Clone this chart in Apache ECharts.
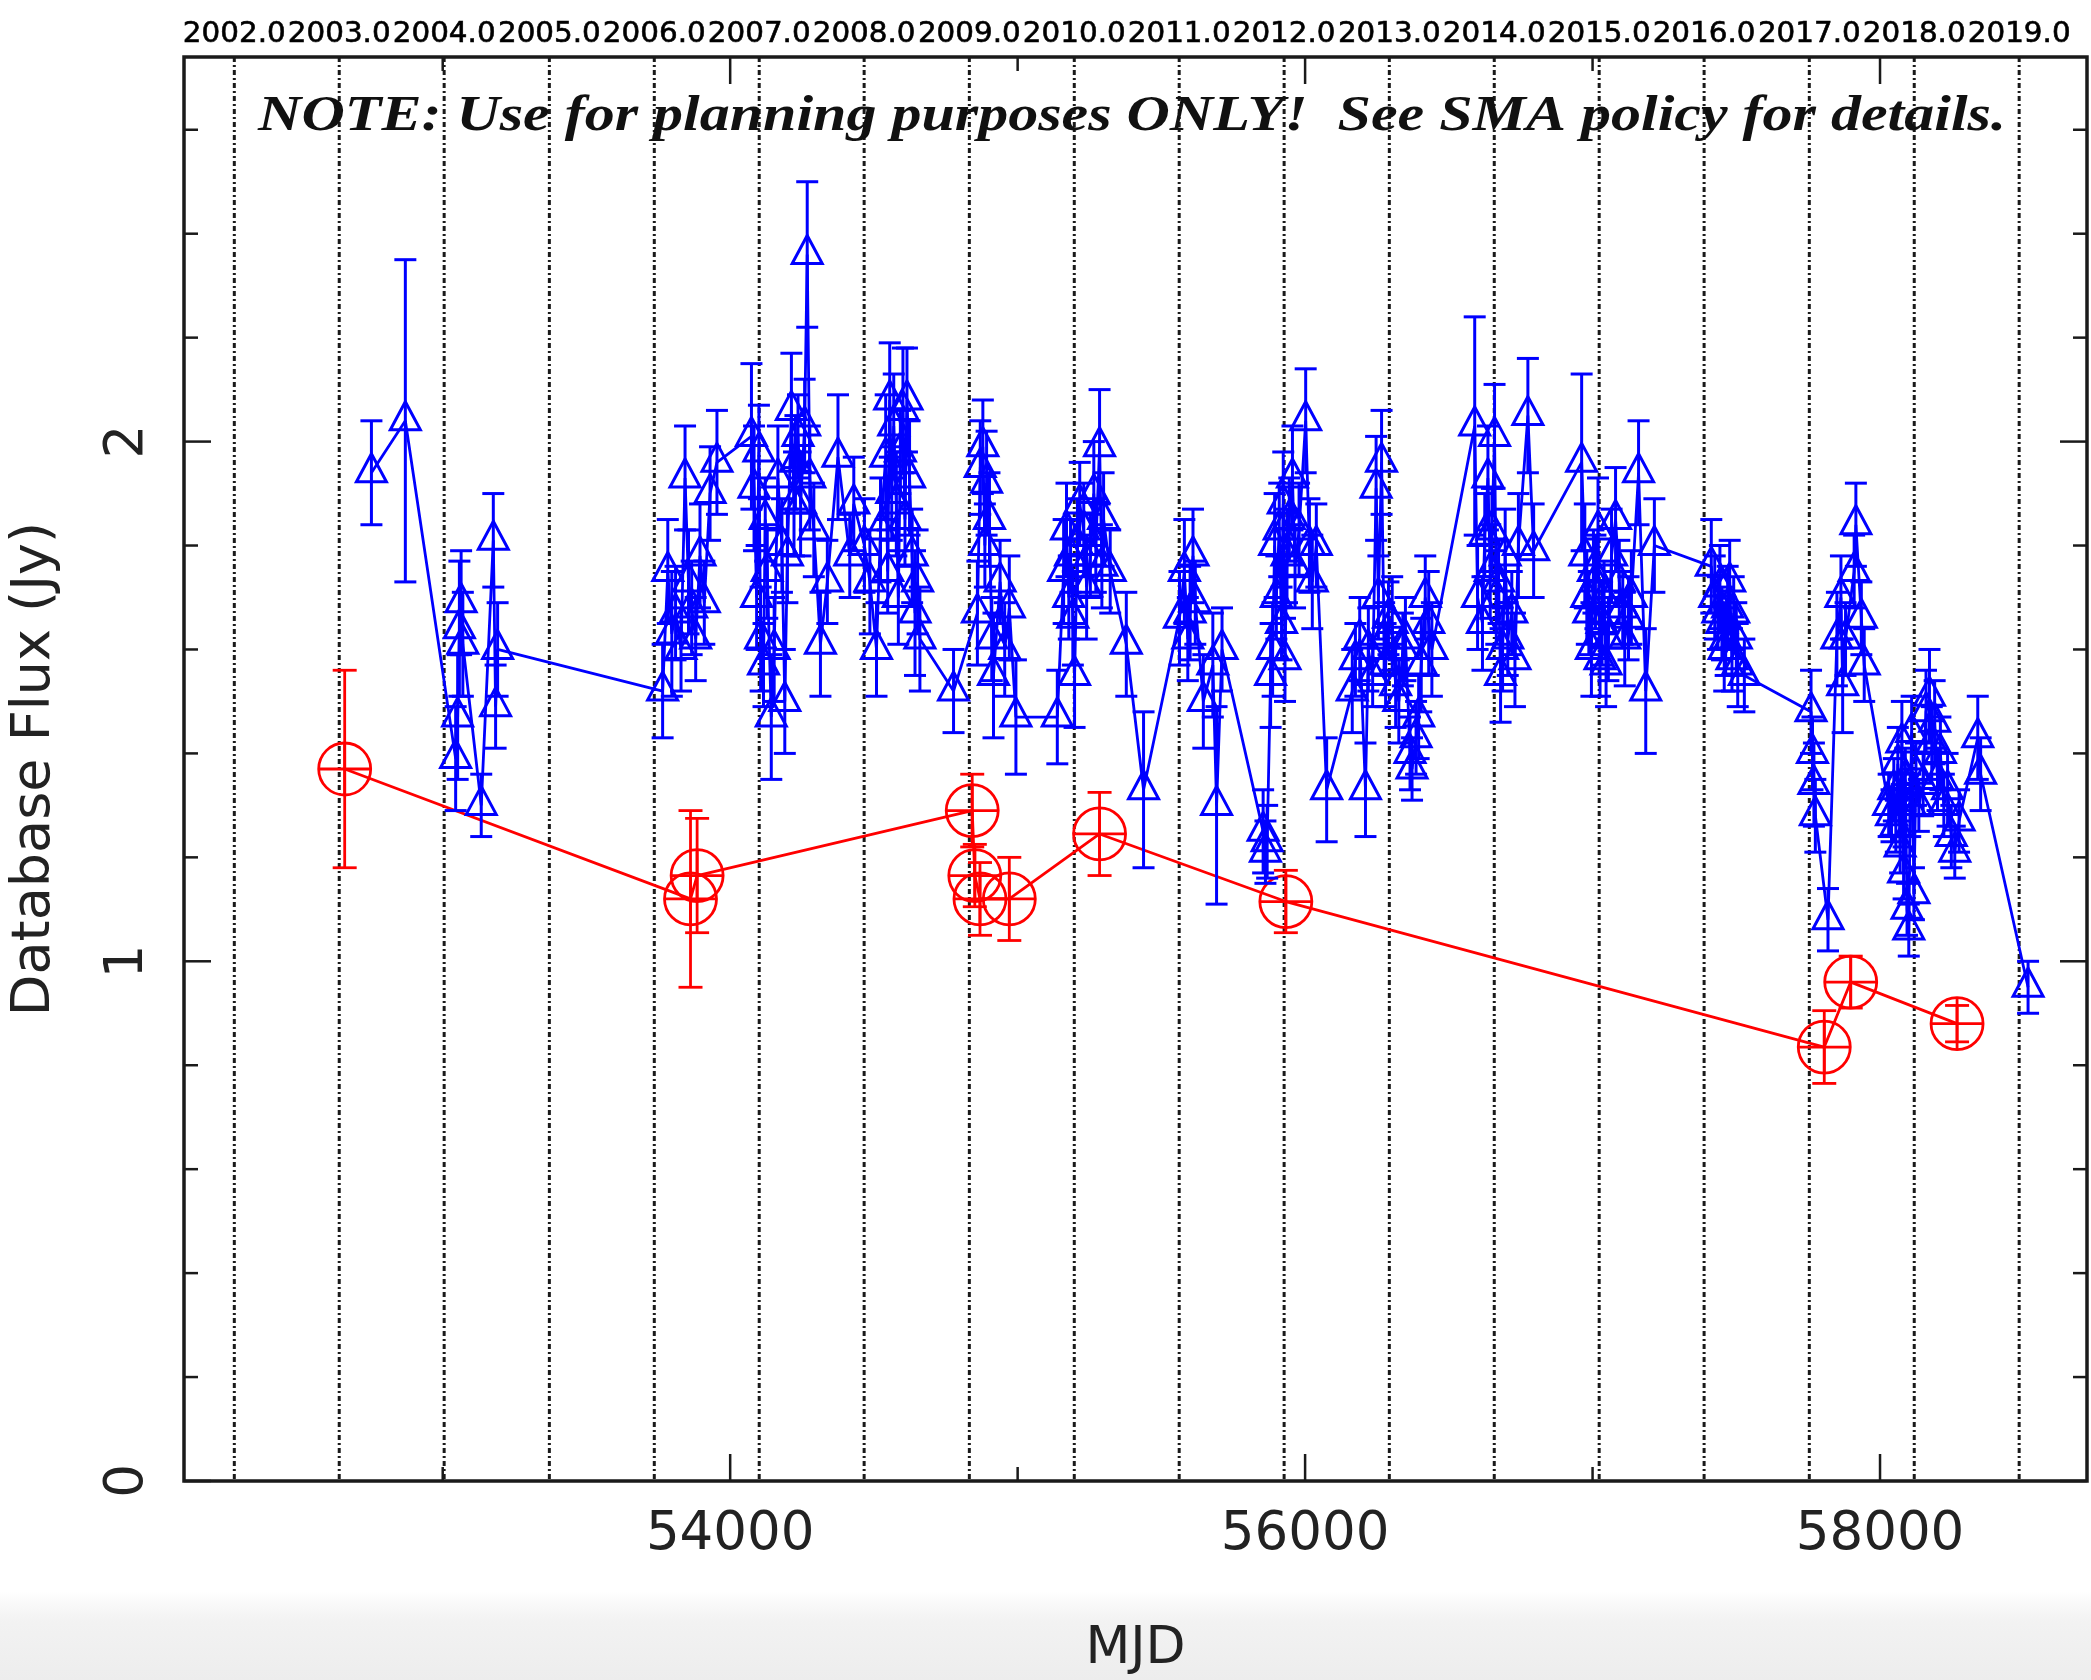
<!DOCTYPE html>
<html>
<head>
<meta charset="utf-8">
<script src="https://cdn.jsdelivr.net/npm/echarts@6/dist/echarts.min.js"></script>
<style>
    html, body { margin: 0; padding: 0; background: #fff; }
    #main { width: 2091px; height: 1680px; }
</style>
</head>
<body>
<div id="main"></div>
<script>
// ---- data ----
// blue triangles (MJD, flux Jy, error Jy)
var blueMjd = [
    52752, 52870, 53045, 53052, 53058, 53064, 53070, 53134, 53176, 53184, 53191,
    53765, 53783, 53797, 53810, 53829, 53843, 53855, 53866, 53880, 53895, 53910, 53930, 53954,
    54074, 54083, 54092, 54100, 54106, 54116, 54122, 54129, 54143, 54153, 54166, 54180, 54190, 54199,
    54213, 54222, 54227, 54236, 54245, 54259, 54268, 54277, 54291, 54314, 54338, 54375, 54416, 54430,
    54467, 54486, 54509, 54523, 54541, 54548, 54555, 54562, 54569, 54578, 54585, 54592, 54601, 54608,
    54615, 54624, 54633, 54643, 54652, 54660, 54777,
    54860, 54870, 54879, 54886, 54892, 54902, 54910, 54916, 54939, 54955, 54971, 54994,
    55138, 55160, 55170, 55178, 55184, 55192, 55198, 55208, 55216, 55230, 55240, 55253, 55265, 55272,
    55285, 55293, 55299, 55322, 55378, 55438,
    55563, 55580, 55592, 55600, 55610, 55618, 55646, 55679, 55692, 55711,
    55854, 55862, 55868, 55880, 55887, 55894, 55900, 55910, 55918, 55924, 55930, 55937, 55945, 55956,
    55965, 55979, 56002, 56015, 56025, 56039, 56075,
    56164, 56175, 56190, 56210, 56220, 56235, 56247, 56255, 56266, 56275, 56280, 56290, 56303, 56315,
    56326, 56340, 56349, 56365, 56372, 56386, 56395, 56404, 56418, 56430, 56441,
    56590, 56600, 56617, 56625, 56636, 56644, 56650, 56659, 56665, 56673, 56680, 56687, 56696, 56705,
    56719, 56730, 56742, 56775, 56795,
    56962, 56973, 56980, 56987, 56996, 57003, 57010, 57019, 57026, 57033, 57040, 57047, 57055, 57066,
    57080, 57093, 57105, 57112, 57125, 57135, 57160, 57185, 57215,
    57413, 57425, 57436, 57443, 57450, 57458, 57463, 57470, 57477, 57485, 57491, 57500, 57505, 57528,
    57760, 57765, 57770, 57775, 57819, 57850, 57864, 57870, 57880, 57910, 57916, 57935, 57945,
    58030, 58040, 58048, 58055, 58062, 58070, 58076, 58082, 58088, 58094, 58100, 58105, 58110, 58118,
    58125, 58135, 58150, 58160, 58172, 58180, 58190, 58200, 58210, 58222, 58235, 58248, 58260, 58275,
    58340, 58350, 58515
];
var blueFlux = [
    1.94, 2.04, 1.39, 1.47, 1.64, 1.69, 1.61, 1.30, 1.81, 1.49, 1.60,
    1.52, 1.75, 1.63, 1.67, 1.60, 1.93, 1.73, 1.68, 1.62, 1.78, 1.69, 1.90, 1.96,
    2.01, 1.91, 1.70, 1.98, 1.62, 1.57, 1.85, 1.75, 1.47, 1.60, 1.93, 1.80, 1.50, 1.78,
    2.06, 1.88, 1.96, 2.01, 1.88, 2.03, 2.36, 1.93, 1.83, 1.61, 1.73, 1.97, 1.78, 1.88,
    1.80, 1.73, 1.60, 1.83, 1.97, 1.75, 2.08, 1.90, 2.03, 1.88, 1.70, 1.98, 2.06, 1.85,
    2.08, 1.93, 1.78, 1.67, 1.73, 1.62, 1.52,
    1.67, 1.95, 1.99, 1.80, 1.92, 1.85, 1.62, 1.55, 1.73, 1.60, 1.68, 1.47,
    1.47, 1.75, 1.83, 1.70, 1.78, 1.66, 1.55, 1.80, 1.88, 1.83, 1.72, 1.78, 1.90, 1.80,
    1.99, 1.76, 1.85, 1.75, 1.61, 1.33,
    1.66, 1.75, 1.62, 1.67, 1.78, 1.69, 1.50, 1.57, 1.30, 1.60,
    1.25, 1.21, 1.23, 1.55, 1.60, 1.80, 1.70, 1.83, 1.65, 1.88, 1.58, 1.78, 1.85, 1.93,
    1.76, 1.83, 2.04, 1.80, 1.73, 1.80, 1.33,
    1.52, 1.58, 1.62, 1.33, 1.60, 1.55, 1.91, 1.70, 1.96, 1.62, 1.57, 1.66, 1.65, 1.53,
    1.50, 1.60, 1.62, 1.40, 1.37, 1.43, 1.47, 1.57, 1.70, 1.65, 1.60,
    2.03, 1.70, 1.65, 1.82, 1.93, 1.75, 1.83, 2.01, 1.70, 1.73, 1.55, 1.60, 1.78, 1.62,
    1.67, 1.58, 1.80, 2.05, 1.79,
    1.96, 1.78, 1.70, 1.67, 1.60, 1.75, 1.73, 1.83, 1.58, 1.65, 1.70, 1.57, 1.62, 1.78,
    1.85, 1.73, 1.68, 1.62, 1.66, 1.70, 1.94, 1.52, 1.80,
    1.76, 1.70, 1.67, 1.72, 1.65, 1.60, 1.62, 1.68, 1.73, 1.58, 1.67, 1.62, 1.57, 1.55,
    1.48, 1.40, 1.34, 1.28, 1.08, 1.62, 1.70, 1.53, 1.62, 1.75, 1.84, 1.66, 1.57,
    1.30, 1.28, 1.33, 1.26, 1.38, 1.22, 1.42, 1.17, 1.35, 1.10, 1.06, 1.30, 1.44, 1.13,
    1.36, 1.30, 1.34, 1.48, 1.51, 1.42, 1.46, 1.35, 1.40, 1.30, 1.33, 1.24, 1.21, 1.27,
    1.43, 1.36, 0.95
];
var blueErr = [
    0.10, 0.31, 0.10, 0.12, 0.13, 0.10, 0.10, 0.06, 0.09, 0.08, 0.09,
    0.09, 0.10, 0.12, 0.09, 0.08, 0.10, 0.10, 0.09, 0.08, 0.10, 0.08, 0.09, 0.10,
    0.14, 0.12, 0.10, 0.09, 0.10, 0.08, 0.08, 0.09, 0.12, 0.10, 0.10, 0.09, 0.10, 0.09,
    0.11, 0.10, 0.09, 0.08, 0.10, 0.09, 0.14, 0.10, 0.09, 0.10, 0.08, 0.12, 0.08, 0.09,
    0.09, 0.10, 0.09, 0.10, 0.12, 0.08, 0.11, 0.09, 0.10, 0.10, 0.09, 0.08, 0.12, 0.09,
    0.10, 0.11, 0.09, 0.12, 0.10, 0.10, 0.08,
    0.10, 0.09, 0.09, 0.08, 0.10, 0.09, 0.08, 0.12, 0.08, 0.09, 0.10, 0.11,
    0.09, 0.10, 0.09, 0.08, 0.07, 0.09, 0.10, 0.09, 0.08, 0.09, 0.10, 0.08, 0.10, 0.09,
    0.11, 0.08, 0.09, 0.08, 0.10, 0.15,
    0.09, 0.10, 0.08, 0.09, 0.09, 0.08, 0.09, 0.10, 0.19, 0.08,
    0.08, 0.06, 0.07, 0.10, 0.09, 0.10, 0.08, 0.09, 0.07, 0.10, 0.08, 0.09, 0.08, 0.10,
    0.08, 0.09, 0.10, 0.09, 0.09, 0.08, 0.10,
    0.08, 0.07, 0.08, 0.09, 0.08, 0.06, 0.10, 0.08, 0.10, 0.07, 0.08, 0.07, 0.09, 0.08,
    0.08, 0.07, 0.08, 0.07, 0.06, 0.07, 0.08, 0.09, 0.08, 0.10, 0.09,
    0.21, 0.10, 0.09, 0.08, 0.10, 0.09, 0.08, 0.10, 0.09, 0.08, 0.09, 0.08, 0.09, 0.07,
    0.08, 0.09, 0.10, 0.11, 0.09,
    0.17, 0.10, 0.09, 0.08, 0.09, 0.08, 0.09, 0.10, 0.07, 0.08, 0.07, 0.08, 0.08, 0.09,
    0.10, 0.08, 0.07, 0.09, 0.08, 0.09, 0.10, 0.12, 0.09,
    0.09, 0.08, 0.07, 0.08, 0.07, 0.08, 0.07, 0.08, 0.08, 0.06, 0.07, 0.07, 0.08, 0.07,
    0.08, 0.07, 0.08, 0.07, 0.06, 0.09, 0.08, 0.09, 0.07, 0.07, 0.08, 0.07, 0.07,
    0.06, 0.05, 0.06, 0.05, 0.07, 0.05, 0.08, 0.05, 0.06, 0.05, 0.05, 0.06, 0.07, 0.05,
    0.06, 0.05, 0.06, 0.08, 0.09, 0.07, 0.08, 0.06, 0.07, 0.06, 0.07, 0.06, 0.05, 0.06,
    0.08, 0.07, 0.05
];

// red circles (MJD, flux Jy, error Jy)
var redMjd  = [52659, 53862, 53885, 54842, 54851, 54869, 54971, 55285, 55933, 57806, 57898, 58268];
var redFlux = [1.37, 1.12, 1.165, 1.29, 1.165, 1.12, 1.12, 1.245, 1.115, 0.835, 0.96, 0.88];
var redErr  = [0.19, 0.17, 0.11, 0.07, 0.06, 0.07, 0.08, 0.08, 0.06, 0.07, 0.05, 0.035];

// year markers along the top
var yearMjd = [52275, 52640, 53005, 53371, 53736, 54101, 54466, 54832, 55197,
               55562, 55927, 56293, 56658, 57023, 57388, 57754, 58119, 58484];
var yearLabels = ['2002.0', '2003.0', '2004.0', '2005.0', '2006.0', '2007.0', '2008.0', '2009.0', '2010.0',
                  '2011.0', '2012.0', '2013.0', '2014.0', '2015.0', '2016.0', '2017.0', '2018.0', '2019.0'];

// axis ticks
var xTickVals = [53000, 54000, 55000, 56000, 57000, 58000];
var xTickLabels = ['', '54000', '', '56000', '', '58000'];
var yTickVals = [0, 0.2, 0.4, 0.6, 0.8, 1, 1.2, 1.4, 1.6, 1.8, 2, 2.2, 2.4, 2.6];
var yTickLabels = ['0', '', '', '', '', '1', '', '', '', '', '2', '', '', ''];

var NOTE_TEXT = 'NOTE: Use for planning purposes ONLY!  See SMA policy for details.';

var X_MIN = 52100, X_MAX = 58720, Y_MIN = 0, Y_MAX = 2.74;
var BLUE = '#0000ff', RED = '#ff0000', INK = '#1a1a1a';

function zip3(a, b, c) {
    var out = [];
    for (var i = 0; i < a.length; i++) out.push([a[i], b[i], c[i]]);
    return out;
}
var blueData = zip3(blueMjd, blueFlux, blueErr);
var redData = zip3(redMjd, redFlux, redErr);

/**
 * dotted year lines + year labels above the frame
 */
function renderYear(params, api) {
    var t = api.coord([api.value(0), Y_MAX]);
    var b = api.coord([api.value(0), Y_MIN]);
    return {
        type: 'group',
        children: [
            {type: 'line', shape: {x1: t[0], y1: t[1], x2: b[0], y2: b[1]},
             style: {stroke: '#1a1a1a', lineWidth: 3, lineDash: [5, 3, 2, 3]}},
            {type: 'text', x: t[0], y: t[1] - 22, scaleX: 1.05,
             style: {text: yearLabels[params.dataIndex], x: 0, y: 0, align: 'center', verticalAlign: 'middle',
                     font: '28px "DejaVu Sans"', fill: '#000', stroke: '#000', lineWidth: 0.6}}
        ]
    };
}

function renderXTick(params, api) {
    var i = params.dataIndex;
    var lab = xTickLabels[i];
    var len = lab ? 27 : 14;
    var b = api.coord([api.value(0), Y_MIN]);
    var t = api.coord([api.value(0), Y_MAX]);
    var st = {stroke: INK, lineWidth: 2.5};
    var kids = [
        {type: 'line', shape: {x1: b[0], y1: b[1], x2: b[0], y2: b[1] - len}, style: st},
        {type: 'line', shape: {x1: t[0], y1: t[1], x2: t[0], y2: t[1] + len}, style: st}
    ];
    if (lab) {
        kids.push({type: 'text', x: b[0], y: b[1] + 54,
            style: {text: lab, x: 0, y: 0, align: 'center', verticalAlign: 'middle',
                    font: '53px "DejaVu Sans"', fill: '#222'}});
    }
    return {type: 'group', children: kids};
}

function renderYTick(params, api) {
    var i = params.dataIndex;
    var lab = yTickLabels[i];
    var len = lab ? 27 : 14;
    var l = api.coord([X_MIN, api.value(1)]);
    var r = api.coord([X_MAX, api.value(1)]);
    var st = {stroke: INK, lineWidth: 2.5};
    var kids = [
        {type: 'line', shape: {x1: l[0], y1: l[1], x2: l[0] + len, y2: l[1]}, style: st},
        {type: 'line', shape: {x1: r[0], y1: r[1], x2: r[0] - len, y2: r[1]}, style: st}
    ];
    if (lab) {
        kids.push({type: 'text', x: l[0] - 56, y: l[1], rotation: Math.PI / 2,
            style: {text: lab, x: 0, y: 0, align: 'center', verticalAlign: 'middle',
                    font: '53px "DejaVu Sans"', fill: '#222'}});
    }
    return {type: 'group', children: kids};
}

// triangle + error bar
function renderBlue(params, api) {
    var x = api.value(0), y = api.value(1), e = api.value(2);
    var p = api.coord([x, y]);
    var hi = api.coord([x, y + e]);
    var lo = api.coord([x, y - e]);
    var cap = 11, w = 15;
    var st = {stroke: BLUE, lineWidth: 3, fill: 'none'};
    return {
        type: 'group',
        children: [
            {type: 'line', shape: {x1: p[0], y1: hi[1], x2: p[0], y2: lo[1]}, style: st},
            {type: 'line', shape: {x1: p[0] - cap, y1: hi[1], x2: p[0] + cap, y2: hi[1]}, style: st},
            {type: 'line', shape: {x1: p[0] - cap, y1: lo[1], x2: p[0] + cap, y2: lo[1]}, style: st},
            {type: 'polygon', shape: {points: [[p[0], p[1] - 19], [p[0] + w, p[1] + 9], [p[0] - w, p[1] + 9]]}, style: st}
        ]
    };
}

// circle-plus + error bar
function renderRed(params, api) {
    var x = api.value(0), y = api.value(1), e = api.value(2);
    var p = api.coord([x, y]);
    var hi = api.coord([x, y + e]);
    var lo = api.coord([x, y - e]);
    var cap = 12, r = 26;
    var st = {stroke: RED, lineWidth: 2.8, fill: 'none'};
    return {
        type: 'group',
        children: [
            {type: 'line', shape: {x1: p[0], y1: hi[1], x2: p[0], y2: lo[1]}, style: st},
            {type: 'line', shape: {x1: p[0] - cap, y1: hi[1], x2: p[0] + cap, y2: hi[1]}, style: st},
            {type: 'line', shape: {x1: p[0] - cap, y1: lo[1], x2: p[0] + cap, y2: lo[1]}, style: st},
            {type: 'line', shape: {x1: p[0], y1: p[1] - r, x2: p[0], y2: p[1] + r}, style: st},
            {type: 'line', shape: {x1: p[0] - r, y1: p[1], x2: p[0] + r, y2: p[1]}, style: st},
            {type: 'circle', shape: {cx: p[0], cy: p[1], r: r}, style: st}
        ]
    };
}

var chart = echarts.init(document.getElementById('main'));

var option = {
    animation: false,
    backgroundColor: '#fff',
    grid: {left: 183, right: 4, top: 57, bottom: 193, show: true, borderColor: INK, borderWidth: 3.5},
    xAxis: {
        type: 'value', min: X_MIN, max: X_MAX,
        axisLine: {show: false}, axisTick: {show: false}, axisLabel: {show: false}, splitLine: {show: false},
        name: 'MJD', nameLocation: 'middle', nameGap: 142,
        nameTextStyle: {fontFamily: 'DejaVu Sans', fontSize: 52, color: '#222'}
    },
    yAxis: {
        type: 'value', min: Y_MIN, max: Y_MAX,
        axisLine: {show: false}, axisTick: {show: false}, axisLabel: {show: false}, splitLine: {show: false},
        name: 'Database Flux (Jy)', nameLocation: 'middle', nameRotate: 90, nameGap: 122,
        nameTextStyle: {fontFamily: 'DejaVu Sans', fontSize: 54, color: '#222'}
    },
    graphic: [
        {type: 'rect', z: -10, silent: true, shape: {x: 0, y: 1592, width: 2091, height: 88},
         style: {fill: new echarts.graphic.LinearGradient(0, 0, 0, 1, [
             {offset: 0, color: 'rgba(238,238,238,0)'},
             {offset: 0.35, color: '#f2f2f2'},
             {offset: 1, color: '#ededed'}
         ])}},
        {type: 'text', x: 1132, y: 117, scaleX: 1.2, z: 5, silent: true,
         style: {text: NOTE_TEXT, x: 0, y: 0, align: 'center', verticalAlign: 'middle',
                 font: 'italic bold 50px "Liberation Serif"', fill: '#111'}}
    ],
    series: [
        {type: 'custom', name: 'years', renderItem: renderYear, z: 1, silent: true,
         data: yearMjd.map(function (m) { return [m, Y_MIN]; })},
        {type: 'custom', name: 'xticks', renderItem: renderXTick, z: 1, silent: true,
         data: xTickVals.map(function (v) { return [v, Y_MIN]; })},
        {type: 'custom', name: 'yticks', renderItem: renderYTick, z: 1, silent: true,
         data: yTickVals.map(function (v) { return [X_MIN, v]; })},
        {type: 'line', name: 'red line', data: redData.map(function (d) { return [d[0], d[1]]; }),
         symbol: 'none', lineStyle: {color: RED, width: 2.8}, z: 2, silent: true},
        {type: 'custom', name: 'red marks', renderItem: renderRed, data: redData, z: 3, silent: true},
        {type: 'line', name: 'blue line', data: blueData.map(function (d) { return [d[0], d[1]]; }),
         symbol: 'none', lineStyle: {color: BLUE, width: 2.8}, z: 4, silent: true},
        {type: 'custom', name: 'blue marks', renderItem: renderBlue, data: blueData, z: 5, silent: true}
    ]
};

chart.setOption(option);
</script>
</body>
</html>
